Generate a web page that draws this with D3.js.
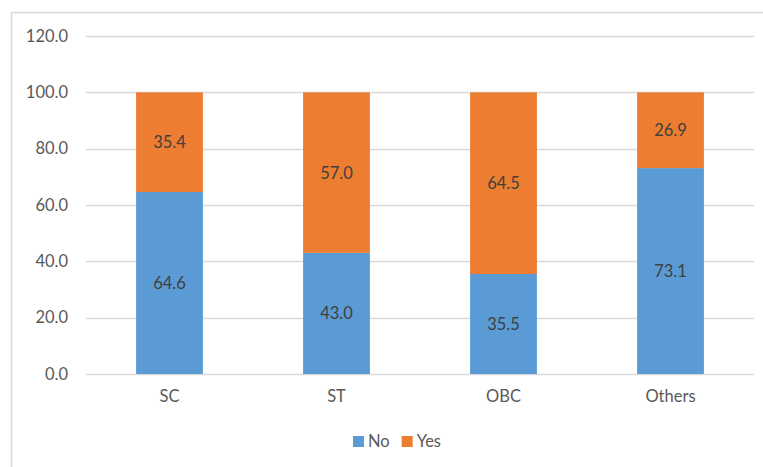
<!DOCTYPE html>
<html>
<head>
<meta charset="utf-8">
<script src="https://cdn.jsdelivr.net/npm/d3@7"></script>
<style>
  html, body { margin: 0; padding: 0; background: #fff; }
  svg { display: block; font-family: Lato, "Open Sans", sans-serif; }
</style>
</head>
<body>
<svg id="chart" width="763" height="467"></svg>
<script>
// Chart data
const categories = ['SC', 'ST', 'OBC', 'Others'];
const noValues = [64.6, 43.0, 35.5, 73.1];
const yesValues = [35.4, 57.0, 64.5, 26.9];
const seriesNames = ['No', 'Yes'];
const yTicks = [0, 20, 40, 60, 80, 100, 120];

const COLORS = { No: '#5B9BD5', Yes: '#ED7D31' };
const GRID_COLOR = '#D9D9D9';
const TEXT_COLOR = '#595959';
const LABEL_COLOR = '#404040';

const svg = d3.select('#chart');

// outer chart border (only left/top edges fall inside the picture)
svg.append('rect')
  .attr('x', 11.5).attr('y', 12.5)
  .attr('width', 800).attr('height', 500)
  .attr('fill', 'none')
  .attr('stroke', GRID_COLOR)
  .attr('stroke-width', 1.5);

const plot = { left: 86, right: 754, top: 36, bottom: 374 };

const x = d3.scaleBand()
  .domain(categories)
  .range([plot.left, plot.right])
  .paddingInner(0.6)
  .paddingOuter(0.3);

const y = d3.scaleLinear()
  .domain([0, 120])
  .range([plot.bottom, plot.top]);

// gridlines
svg.append('g')
  .selectAll('line')
  .data(yTicks)
  .join('line')
  .attr('x1', plot.left).attr('x2', plot.right)
  .attr('y1', (d) => Math.round(y(d)) + 0.5)
  .attr('y2', (d) => Math.round(y(d)) + 0.5)
  .attr('stroke', GRID_COLOR)
  .attr('stroke-width', 1.3);

// y axis labels
const yAxis = d3.axisLeft(y).tickValues(yTicks).tickFormat(d3.format('.1f')).tickSize(0).tickPadding(18);
svg.append('g')
  .attr('transform', `translate(${plot.left},0)`)
  .call(yAxis)
  .call((g) => g.select('.domain').remove())
  .call((g) => g.selectAll('text')
    .attr('fill', TEXT_COLOR)
    .style('font-size', '16.5px')
    .style('font-family', 'Lato, sans-serif'));

// stacked bars
const rows = categories.map((c, i) => ({ cat: c, No: noValues[i], Yes: yesValues[i] }));
const stacked = d3.stack().keys(seriesNames)(rows);

const layers = svg.append('g')
  .selectAll('g')
  .data(stacked)
  .join('g')
  .attr('fill', (s) => COLORS[s.key]);

layers.selectAll('rect')
  .data((s) => s)
  .join('rect')
  .attr('x', (d) => x(d.data.cat))
  .attr('width', x.bandwidth())
  .attr('y', (d) => y(d[1]))
  .attr('height', (d) => y(d[0]) - y(d[1]));

layers.selectAll('text')
  .data((s) => s.map((d) => ({ d, key: s.key })))
  .join('text')
  .attr('x', (o) => x(o.d.data.cat) + x.bandwidth() / 2)
  .attr('y', (o) => y((o.d[0] + o.d[1]) / 2))
  .attr('dy', '0.36em')
  .attr('text-anchor', 'middle')
  .attr('fill', LABEL_COLOR)
  .style('font-size', '16.5px')
  .text((o) => d3.format('.1f')(o.d.data[o.key]));

// x axis labels
const xAxis = d3.axisBottom(x).tickSize(0).tickPadding(16);
svg.append('g')
  .attr('transform', `translate(0,${plot.bottom})`)
  .call(xAxis)
  .call((g) => g.select('.domain').remove())
  .call((g) => g.selectAll('text')
    .attr('fill', TEXT_COLOR)
    .style('font-size', '16.5px')
    .style('font-family', 'Lato, sans-serif'));

// legend
const legend = svg.append('g');
let lx = 0;
seriesNames.forEach((name) => {
  const item = legend.append('g').attr('transform', `translate(${lx},0)`);
  item.append('rect')
    .attr('x', 0).attr('y', -11)
    .attr('width', 11).attr('height', 11)
    .attr('fill', COLORS[name]);
  const t = item.append('text')
    .attr('x', 15).attr('y', 0)
    .attr('fill', TEXT_COLOR)
    .style('font-size', '16.5px')
    .text(name);
  lx += 15 + t.node().getComputedTextLength() + 12;
});
const legendWidth = lx - 12;
legend.attr('transform', `translate(${397 - legendWidth / 2},447)`);
</script>
</body>
</html>
